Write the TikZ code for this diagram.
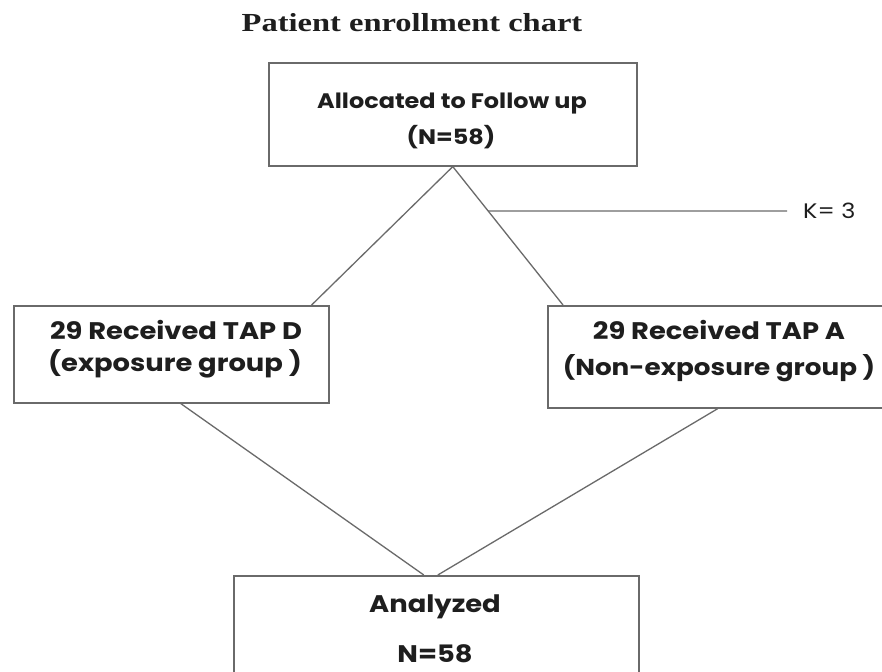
\documentclass[tikz,border=0pt]{standalone}
\usepackage{fontspec}
\setmainfont{Poppins}
\newfontfamily\boxfont{Poppins}[FakeStretch=1.14]
\newfontfamily\titlefont{Liberation Serif}[FakeStretch=1.25]
\usetikzlibrary{calc}
\definecolor{boxgray}{HTML}{6A6A6A}
\definecolor{inkc}{HTML}{1E1E1E}
\tikzset{
  boxnode/.style={draw=boxgray, line width=1.6pt, fill=white, inner sep=0pt, anchor=north west},
  conn/.style={draw=boxgray, line width=1.3pt},
  toptext/.style={text=inkc, font=\boxfont\fontsize{21}{24}\selectfont\bfseries, inner sep=0pt},
  boxtext/.style={text=inkc, font=\boxfont\fontsize{24}{28}\selectfont\bfseries, inner sep=0pt},
  titletext/.style={text=inkc, font=\titlefont\fontsize{26}{30}\selectfont\bfseries, inner sep=0pt}
}
\begin{document}
\begin{tikzpicture}[x=1pt,y=-1pt]
\useasboundingbox (0,0) rectangle (882,671);
\fill[white] (0,0) rectangle (882,671);
\node[titletext] (title) at (412,23) {Patient enrollment chart};
% boxes
\node[boxnode, minimum width=368pt, minimum height=103pt] (top) at (268,62) {};
\node[boxnode, minimum width=315pt, minimum height=97pt] (lbox) at (13,305) {};
\node[boxnode, minimum width=343pt, minimum height=102pt] (rbox) at (547,305) {};
\node[boxnode, minimum width=405pt, minimum height=120pt] (bbox) at (233,575) {};
% texts
\node[toptext] (t1) at (452,104) {Allocated to Follow up};
\node[toptext] (t2) at (451,137) {(N=58)};
\node[boxtext] (l1) at (176,330) {29 Received TAP D};
\node[boxtext] (l2) at (175,364) {(exposure group )};
\node[boxtext] (r1) at (719,330) {29 Received TAP A};
\node[boxtext, font=\boxfont\fontsize{23}{27}\selectfont\bfseries] (r2) at (719,368) {(Non-exposure group )};
\node[boxtext] (b1) at (435,607) {Analyzed};
\node[boxtext] (b2) at (435,654) {N=58};
\node[text=inkc, font=\boxfont\fontsize{21}{24}\selectfont, inner sep=0pt, anchor=west] (klabel) at (803,211) {K= 3};
% connectors
\coordinate (ltop) at ([xshift=-18pt]lbox.north east);
\coordinate (rtop) at ([xshift=16pt]rbox.north west);
\draw[conn] (top.south) -- (ltop);
\draw[conn] (top.south) -- (rtop);
\coordinate (kstart) at ($(top.south)!0.321!(rtop)$);
\draw[conn] (kstart) -- ([xshift=-16pt]klabel.west);
\draw[conn] ([xshift=9.5pt]lbox.south) -- ([xshift=-12.5pt]bbox.north);
\draw[conn] ([xshift=-1.5pt]rbox.south) -- ([xshift=1.5pt]bbox.north);
\end{tikzpicture}
\end{document}
